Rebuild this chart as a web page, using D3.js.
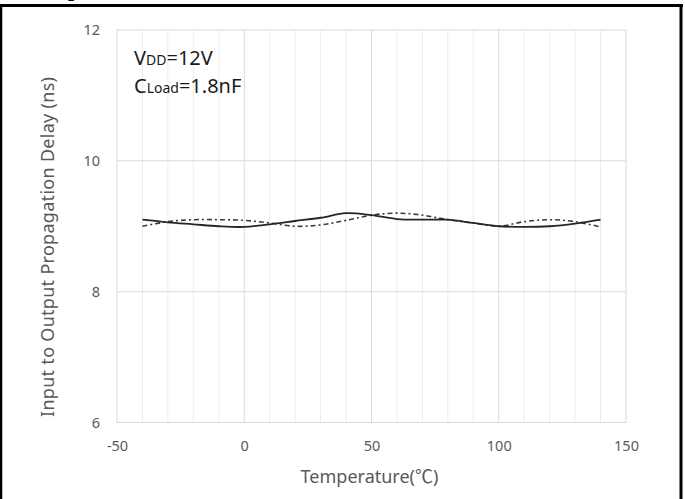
<!DOCTYPE html>
<html>
<head>
<meta charset="utf-8">
<script src="https://cdn.jsdelivr.net/npm/d3@7/dist/d3.min.js"></script>
<style>
  html, body { margin: 0; padding: 0; background: #fff; }
  svg { display: block; }
</style>
</head>
<body>
<div id="chart"></div>
<script>
// Propagation delay vs. temperature (VDD = 12 V, CLoad = 1.8 nF)
const temperatures = [-40, -30, -20, -10, 0, 10, 20, 30, 40, 50, 60, 70, 80, 90, 100, 110, 120, 130, 140];
const delaySolid   = [9.10, 9.06, 9.03, 9.00, 8.99, 9.03, 9.08, 9.13, 9.20, 9.17, 9.11, 9.10, 9.10, 9.05, 9.00, 8.99, 9.00, 9.04, 9.10];
const delayDashDot = [9.00, 9.07, 9.10, 9.10, 9.09, 9.05, 9.00, 9.02, 9.09, 9.17, 9.20, 9.17, 9.10, 9.05, 9.00, 9.07, 9.10, 9.07, 8.99];
const xTicks = [-50, 0, 50, 100, 150];
const yTicks = [6, 8, 10, 12];

const W = 685, H = 499;
const svg = d3.select("#chart").append("svg").attr("width", W).attr("height", H);

// Plot area
const plotL = 117, plotR = 626, plotT = 30, plotB = 422.5;
const x = d3.scaleLinear().domain([-50, 150]).range([plotL, plotR]);
const y = d3.scaleLinear().domain([6, 12]).range([plotB, plotT]);

// Minor vertical grid every 10 °C
const minor = d3.range(-40, 150, 10).filter(v => v % 50 !== 0);
svg.append("g").selectAll("line").data(minor).join("line")
  .attr("x1", d => x(d)).attr("x2", d => x(d))
  .attr("y1", plotT).attr("y2", plotB)
  .attr("stroke", "#ececec").attr("stroke-width", 1);

// Major vertical grid
svg.append("g").selectAll("line").data(xTicks.slice(1, -1)).join("line")
  .attr("x1", d => x(d)).attr("x2", d => x(d))
  .attr("y1", plotT).attr("y2", plotB)
  .attr("stroke", "#d9d9d9").attr("stroke-width", 1);

// Horizontal grid
svg.append("g").selectAll("line").data(yTicks.slice(1, -1)).join("line")
  .attr("x1", plotL).attr("x2", plotR)
  .attr("y1", d => y(d)).attr("y2", d => y(d))
  .attr("stroke", "#d9d9d9").attr("stroke-width", 1);

// Plot frame
svg.append("rect")
  .attr("x", plotL).attr("y", plotT)
  .attr("width", plotR - plotL).attr("height", plotB - plotT)
  .attr("fill", "none").attr("stroke", "#d9d9d9").attr("stroke-width", 1);

// Axes (labels only)
const font = "'Noto Sans', 'Open Sans', sans-serif";
const fmt = d => String(d);
const xAxis = svg.append("g").attr("transform", `translate(0,${plotB})`)
  .call(d3.axisBottom(x).tickValues(xTicks).tickFormat(fmt).tickSize(0).tickPadding(18));
const yAxis = svg.append("g").attr("transform", `translate(${plotL},0)`)
  .call(d3.axisLeft(y).tickValues(yTicks).tickFormat(fmt).tickSize(0).tickPadding(17));
[xAxis, yAxis].forEach(g => {
  g.select(".domain").remove();
  g.selectAll("text").attr("fill", "#595959").style("font-family", font).style("font-size", "14.5px");
});

// Axis titles
const xTitle = svg.append("text")
  .attr("x", (plotL + plotR) / 2 - 2).attr("y", 483)
  .attr("text-anchor", "middle").attr("fill", "#595959")
  .style("font-family", font).style("font-size", "18px");
xTitle.append("tspan").text("Temperature(");
xTitle.append("tspan").style("font-family", "'Noto Sans CJK SC', sans-serif").text("℃");
xTitle.append("tspan").text(")");

svg.append("text")
  .attr("transform", `translate(54,247) rotate(-90)`)
  .attr("text-anchor", "middle").attr("fill", "#595959")
  .attr("textLength", 340).attr("lengthAdjust", "spacing")
  .style("font-family", font).style("font-size", "18px")
  .text("Input to Output Propagation Delay (ns)");

// Curves
const line = d3.line()
  .x((d, i) => x(temperatures[i]))
  .y(d => y(d))
  .curve(d3.curveCatmullRom.alpha(0.5));

svg.append("path").datum(delayDashDot)
  .attr("d", line).attr("fill", "none")
  .attr("stroke", "#3a3a3a").attr("stroke-width", 1.6)
  .attr("stroke-dasharray", "5,3,2,3");

svg.append("path").datum(delaySolid)
  .attr("d", line).attr("fill", "none")
  .attr("stroke", "#262626").attr("stroke-width", 1.8);

// Condition labels
const note = svg.append("g").attr("fill", "#1a1a1a").style("font-family", font);
const t1 = note.append("text").attr("x", 134).attr("y", 65);
t1.append("tspan").style("font-size", "20px").text("V");
t1.append("tspan").style("font-size", "14px").text("DD");
t1.append("tspan").style("font-size", "20px").text("=12V");
const t2 = note.append("text").attr("x", 134).attr("y", 93);
t2.append("tspan").style("font-size", "20px").text("C");
t2.append("tspan").style("font-size", "14px").text("Load");
t2.append("tspan").style("font-size", "20px").text("=1.8nF");

// Table cell frame
svg.append("line").attr("x1", 0).attr("x2", 683).attr("y1", 5.5).attr("y2", 5.5)
  .attr("stroke", "#000").attr("stroke-width", 3);
svg.append("line").attr("x1", 1).attr("x2", 1).attr("y1", 4).attr("y2", H)
  .attr("stroke", "#000").attr("stroke-width", 2.5);
svg.append("line").attr("x1", 681).attr("x2", 681).attr("y1", 4).attr("y2", H)
  .attr("stroke", "#000").attr("stroke-width", 3);

// Descender of the heading in the row above
svg.append("text").attr("x", 68).attr("y", -4)
  .attr("fill", "#000").style("font-family", "'Liberation Serif', serif")
  .style("font-weight", "bold").style("font-size", "22px").text("p");
</script>
</body>
</html>
